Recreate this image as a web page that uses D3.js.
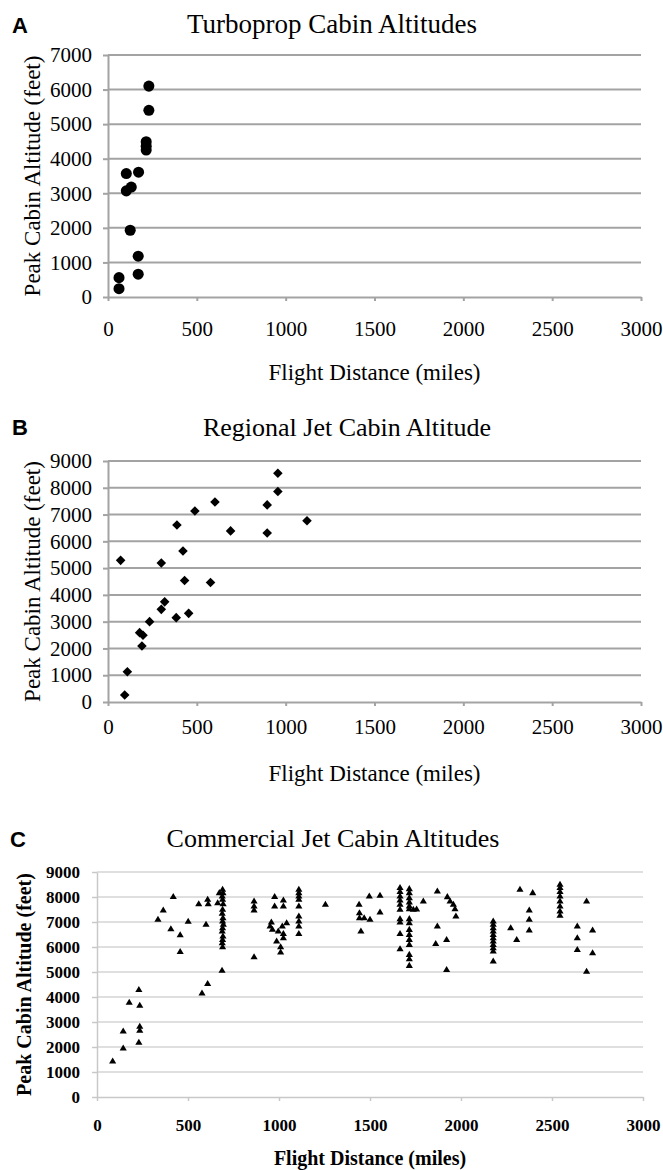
<!DOCTYPE html>
<html>
<head>
<meta charset="utf-8">
<script src="https://cdn.jsdelivr.net/npm/d3@7"></script>
<style>
  body { margin: 0; background: #fff; }
  svg text { fill: #000; }
</style>
</head>
<body>
<div id="chart"></div>
<script>
// Axis ticks
const distanceTicks = [0, 500, 1000, 1500, 2000, 2500, 3000];
const turbopropAltTicks = [0, 1000, 2000, 3000, 4000, 5000, 6000, 7000];
const jetAltTicks = [0, 1000, 2000, 3000, 4000, 5000, 6000, 7000, 8000, 9000];

// Panel A - turboprop (miles, feet)
const turbopropDist = [230, 230, 215, 215, 215, 103, 172, 103, 131, 125, 170, 170, 62, 62];
const turbopropAlt = [6100, 5400, 4490, 4360, 4250, 3570, 3610, 3070, 3180, 1930, 1180, 660, 560, 240];

// Panel B - regional jet
const regionalDist = [956, 956, 896, 602, 489, 388, 690, 896, 1120, 422, 71, 300,
    431, 577, 319, 300, 454, 384, 234, 178, 197, 191, 109, 94];
const regionalAlt = [8540, 7860, 7360, 7470, 7130, 6610, 6390, 6310, 6770, 5640, 5290, 5190,
    4540, 4460, 3740, 3460, 3310, 3150, 3000, 2590, 2490, 2090, 1130, 260];

// Panel C - commercial jet
const commercialDist = [
    86, 144, 144, 177, 230, 235, 235, 235, 230,
    335, 364, 419, 406, 457, 457, 501,
    559, 608, 611, 599, 577, 608, 687, 663, 672,
    690, 692, 688, 690, 693, 690, 688, 692, 690, 694, 690, 688, 692, 690, 688, 690,
    863, 863, 863, 863, 951, 958, 964, 976, 976, 987, 1009, 1009, 1024, 1024, 1018, 1024, 1024, 1042, 996,
    1109, 1109, 1109, 1109, 1109, 1109, 1109, 1109, 1109,
    1255,
    1440, 1496, 1555, 1442, 1442, 1468, 1500, 1555, 1450,
    1665, 1665, 1665, 1665, 1665, 1665, 1665, 1665, 1665, 1665,
    1716, 1716, 1716, 1716, 1716, 1716, 1716, 1716, 1716, 1716, 1716, 1716, 1716, 1716, 1716, 1738, 1756,
    1793, 1870, 1870, 1861, 1921, 1921, 1925, 1940, 1958, 1967, 1972,
    2177, 2177, 2177, 2177, 2177, 2177, 2177, 2177, 2177, 2177, 2177,
    2273, 2306, 2324, 2394, 2375, 2375, 2375,
    2544, 2544, 2544, 2544, 2544, 2544, 2544, 2544,
    2690, 2639, 2639, 2639, 2723, 2723, 2690
];
const commercialAlt = [
    1420, 1940, 2620, 3770, 4280, 3650, 2810, 2650, 2170,
    7090, 7460, 8000, 6710, 6470, 5800, 7010,
    7710, 7890, 7710, 6890, 4140, 4520, 5050, 7750, 8155,
    8290, 8155, 8020, 7890, 7710, 7490, 7330, 7150, 7020, 6890, 6750, 6620, 6420, 6280, 6150, 5990,
    7820, 7620, 7460, 5590, 6820, 6980, 6690, 8000, 7620, 6220, 5990, 5780, 7860, 7620, 6820, 6520, 6350, 6950, 6620,
    8290, 8155, 8020, 7890, 7620, 7220, 7020, 6820, 6520,
    7690,
    7690, 8020, 8050, 7350, 7150, 7150, 7090, 7380, 6620,
    8360, 8200, 8020, 7860, 7690, 7490, 7110, 6980, 6520, 5910,
    8316, 8156, 7955, 7781, 7621, 7514, 7113, 6952, 6685, 6484, 6284, 6083, 5682, 5508, 5241, 7490, 7500,
    7820, 8220, 6820, 6120, 6280, 5080, 7995, 7820, 7690, 7510, 7220,
    7020, 6890, 6750, 6620, 6480, 6350, 6220, 6080, 5950, 5820, 5420,
    6750, 6280, 8290, 8155, 7460, 7090, 6660,
    8490, 8360, 8200, 8020, 7820, 7620, 7420, 7250,
    7820, 6820, 6350, 5880, 6660, 5750, 5010
];

const serif = "'Liberation Serif', 'Times New Roman', serif";
const plain = d3.format('d');

const svg = d3.select('#chart')
    .append('svg')
    .attr('width', 663)
    .attr('height', 1170);

function drawPanel(p) {
    const x = d3.scaleLinear().domain([0, 3000]).range([p.left, p.right]);
    const y = d3.scaleLinear().domain([0, p.yMax]).range([p.bottom, p.top]);
    const g = svg.append('g');

    // Horizontal gridlines
    g.append('g').selectAll('line')
        .data(p.yTicks.filter(d => d > 0))
        .join('line')
        .attr('x1', p.left)
        .attr('x2', p.right)
        .attr('y1', d => y(d))
        .attr('y2', d => y(d))
        .style('stroke', p.gridColor)
        .style('stroke-width', p.gridWidth);

    // Y axis
    const yAxis = g.append('g')
        .attr('transform', `translate(${p.left},0)`)
        .call(d3.axisLeft(y).tickValues(p.yTicks).tickFormat(plain)
            .tickSize(5).tickSizeOuter(0).tickPadding(p.yPad));
    // X axis
    const xAxis = g.append('g')
        .attr('transform', `translate(0,${p.bottom})`)
        .call(d3.axisBottom(x).tickValues(distanceTicks).tickFormat(plain)
            .tickSize(4).tickSizeOuter(0));

    [yAxis, xAxis].forEach(a => {
        a.select('.domain').style('stroke', p.axisColor).style('stroke-width', p.gridWidth);
        a.selectAll('.tick line').style('stroke', p.axisColor).style('stroke-width', p.gridWidth);
        a.selectAll('.tick text')
            .style('font-family', serif)
            .style('font-size', p.tickFont + 'px')
            .style('font-weight', p.tickWeight);
    });
    xAxis.selectAll('.tick text').attr('y', p.xTickBaseline).attr('dy', 0);

    // Markers
    const pts = p.dist.map((d, i) => ({ d: d, a: p.alt[i] }));
    g.append('g').selectAll('path')
        .data(pts)
        .join('path')
        .attr('d', d3.symbol().type(p.symbol).size(p.symbolSize))
        .attr('transform', d => `translate(${x(d.d)},${y(d.a)}) rotate(${p.rotate})`)
        .style('fill', '#000');

    // Panel letter
    g.append('text')
        .attr('x', p.letterX)
        .attr('y', p.letterY)
        .style('font-family', "'Liberation Sans', Arial, sans-serif")
        .style('font-weight', 'bold')
        .style('font-size', '22px')
        .text(p.letter);

    // Title
    g.append('text')
        .attr('x', p.titleX)
        .attr('y', p.titleY)
        .attr('text-anchor', 'middle')
        .style('font-family', serif)
        .style('font-size', p.titleFont + 'px')
        .text(p.title);

    // X axis title
    g.append('text')
        .attr('x', (p.left + p.right) / 2)
        .attr('y', p.xLabelY)
        .attr('text-anchor', 'middle')
        .style('font-family', serif)
        .style('font-size', p.labelFont + 'px')
        .style('font-weight', p.labelWeight)
        .text('Flight Distance (miles)');

    // Y axis title
    g.append('text')
        .attr('transform', `translate(${p.yLabelX},${(p.top + p.bottom) / 2}) rotate(-90)`)
        .attr('text-anchor', 'middle')
        .style('font-family', serif)
        .style('font-size', p.labelFont + 'px')
        .style('font-weight', p.labelWeight)
        .text('Peak Cabin Altitude (feet)');
}

drawPanel({
    dist: turbopropDist, alt: turbopropAlt, yTicks: turbopropAltTicks, yMax: 7000,
    left: 108, right: 641, top: 55, bottom: 297,
    gridColor: '#a3a3a3', axisColor: '#a3a3a3', gridWidth: 2,
    yPad: 11, tickFont: 21, tickWeight: 'normal', xTickBaseline: 39,
    symbol: d3.symbolCircle, symbolSize: 96, rotate: 0,
    letter: 'A', letterX: 12, letterY: 33,
    title: 'Turboprop Cabin Altitudes', titleX: 332, titleY: 33, titleFont: 27,
    xLabelY: 380, yLabelX: 40, labelFont: 23, labelWeight: 'normal'
});

drawPanel({
    dist: regionalDist, alt: regionalAlt, yTicks: jetAltTicks, yMax: 9000,
    left: 108, right: 641, top: 461, bottom: 702,
    gridColor: '#a3a3a3', axisColor: '#a3a3a3', gridWidth: 2,
    yPad: 11, tickFont: 21, tickWeight: 'normal', xTickBaseline: 32,
    symbol: d3.symbolSquare, symbolSize: 46, rotate: 45,
    letter: 'B', letterX: 12, letterY: 435,
    title: 'Regional Jet Cabin Altitude', titleX: 347, titleY: 436, titleFont: 26,
    xLabelY: 781, yLabelX: 40, labelFont: 23, labelWeight: 'normal'
});

drawPanel({
    dist: commercialDist, alt: commercialAlt, yTicks: jetAltTicks, yMax: 9000,
    left: 97, right: 643, top: 872, bottom: 1097,
    gridColor: '#d4d4d4', axisColor: '#c8c8c8', gridWidth: 1.5,
    yPad: 12, tickFont: 17, tickWeight: 'bold', xTickBaseline: 34,
    symbol: d3.symbolTriangle, symbolSize: 22, rotate: 0,
    letter: 'C', letterX: 10, letterY: 847,
    title: 'Commercial Jet Cabin Altitudes', titleX: 333, titleY: 847, titleFont: 26,
    xLabelY: 1165, yLabelX: 31, labelFont: 20, labelWeight: 'bold'
});
</script>
</body>
</html>
